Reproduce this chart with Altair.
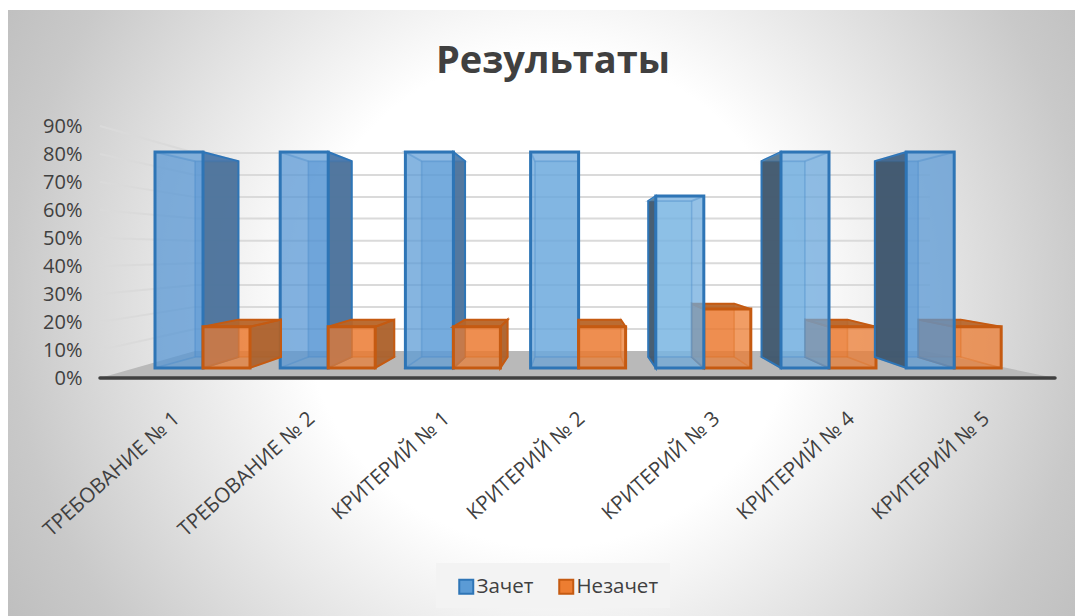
import altair as alt
import pandas as pd

categories = ["ТРЕБОВАНИЕ № 1", "ТРЕБОВАНИЕ № 2", "КРИТЕРИЙ № 1", "КРИТЕРИЙ № 2",
              "КРИТЕРИЙ № 3", "КРИТЕРИЙ № 4", "КРИТЕРИЙ № 5"]
zachet = [80.7, 80.7, 80.7, 80.7, 65.0, 80.7, 80.7]
nezachet = [18.3, 18.3, 18.3, 18.3, 24.6, 18.3, 18.3]
series_names = ["Зачет", "Незачет"]
y_ticks = [0, 10, 20, 30, 40, 50, 60, 70, 80, 90]
# levels at which the axis ticks meet the back wall of the 3-D box
back_wall = [9.6, 17.5, 25.4, 33.2, 41.0, 49.0, 57.0, 64.6, 72.5, 80.4]

FLOOR = 3.6                 # bars stand on the floor slightly above 0
XMIN, XMAX = -0.8227, 6.8051
WALL_L, WALL_R = -0.064, 5.806
VX, VY, DEPTH_X, DEPTH_Y = 2.98, 45.7, 0.905, 0.907
BLUE_W, ORANGE_W = 0.3834, 0.3754
LABEL_X0, LABEL_STEP = -0.208, 1.078

blue_back = ["#4182ce", "#4182ce", "#5a9ad8", "#8fc8ee", "#bef2ff", "#a0d8f5", "#4f90d4"]
ORANGE_BACK = "#e8702a"
BLUE_EDGE, ORANGE_EDGE = "#2e75b6", "#c55a11"

xs = alt.Scale(domain=[XMIN, XMAX], nice=False, zero=False)
ys = alt.Scale(domain=[0, 90], nice=False, zero=False)
y_axis = alt.Axis(values=y_ticks, labelExpr="datum.value + '%'", labelFontSize=20,
                  labelFont="Open Sans", labelColor="#404040", domain=False, ticks=False,
                  grid=False, labelPadding=18, zindex=1, title=None)
X = alt.X("x:Q", scale=xs, axis=None, stack=None)
X2 = alt.X2("x2:Q")
Y = alt.Y("y:Q", scale=ys, axis=y_axis, stack=None)
Y2 = alt.Y2("y2:Q")


def bx(u):
    return VX + DEPTH_X * (u - VX)


def by(v):
    return VY + DEPTH_Y * (v - VY)


def side_face(f_x, v, **style):
    df = pd.DataFrame([dict(x=f_x, y=FLOOR, y2=v), dict(x=bx(f_x), y=by(FLOOR), y2=by(v))])
    return alt.Chart(df).mark_area(orient="vertical", **style).encode(x=X, y=Y, y2=Y2)


def flat_face(l, r, lev, **style):
    df = pd.DataFrame([dict(y=lev, x=l, x2=r), dict(y=by(lev), x=bx(l), x2=bx(r))])
    return alt.Chart(df).mark_area(orient="horizontal", **style).encode(y=Y, x=X, x2=X2)


layers = {"rear": [], "front": []}
for i in range(len(categories)):
    right_group = i >= 4
    for s, vals in enumerate([zachet, nezachet]):
        v = vals[i]
        l, r = (i - BLUE_W, i) if s == 0 else (i, i + ORANGE_W)
        grp = "rear" if (s == 0) != right_group else "front"
        edge = BLUE_EDGE if s == 0 else ORANGE_EDGE
        base = blue_back[i] if s == 0 else ORANGE_BACK
        out = layers[grp]
        back_df = pd.DataFrame([dict(x=bx(l), x2=bx(r), y=by(FLOOR), y2=by(v))])
        out.append(alt.Chart(back_df).mark_rect(
            fill=base, fillOpacity=0.6, stroke=edge, strokeWidth=1.5, strokeOpacity=0.25).encode(
            x=X, x2=X2, y=Y, y2=Y2))
        # bottom, left and right, top faces; the one lying outside the front is shaded
        out.append(flat_face(l, r, FLOOR, fill=base, fillOpacity=0.25, stroke=edge,
                             strokeWidth=1.5, strokeOpacity=0.25))
        for face, f_x in (("L", l), ("R", r)):
            outer = (bx(f_x) < f_x) if face == "L" else (bx(f_x) > f_x)
            if s == 0:
                dark = "#40566c" if right_group else "#4f749b"
            else:
                dark = "#a8602c"
            out.append(side_face(
                f_x, v, fill=dark if outer else base,
                fillOpacity=(0.95 if s == 0 else (0.6 if right_group else 0.9)) if outer else 0.35,
                stroke=edge, strokeWidth=2 if outer else 1.5, strokeOpacity=1.0 if outer else 0.25))
        above = by(v) > v
        out.append(flat_face(l, r, v, fill=("#4f749b" if s == 0 else "#b5652a") if above else base,
                             fillOpacity=0.9 if above else 0.25, stroke=edge, strokeWidth=2,
                             strokeOpacity=1.0 if above else 0.25))

fronts = []
for i in range(len(categories)):
    right_group = i >= 4
    for s, vals in enumerate([zachet, nezachet]):
        l, r = (i - BLUE_W, i) if s == 0 else (i, i + ORANGE_W)
        fronts.append(dict(series=series_names[s], x=l, x2=r, y=FLOOR, y2=vals[i],
                           grp="rear" if (s == 0) != right_group else "front"))
front_df = pd.DataFrame(fronts)


def front_layer(group):
    return alt.Chart(front_df[front_df.grp == group]).mark_rect(
        fillOpacity=0.6, strokeWidth=3).encode(
        x=X, x2=X2, y=Y, y2=Y2,
        fill=alt.Fill("series:N", scale=alt.Scale(domain=series_names, range=["#5b9bd5", "#ed7d31"]),
                      legend=alt.Legend(
                          title=None, orient="none", legendX=356, legendY=450, direction="horizontal",
                          symbolType="square", symbolSize=196, symbolStrokeWidth=2,
                          symbolOpacity=1, labelFont="Open Sans", labelFontSize=20.5,
                          labelColor="#404040", padding=0,
                          columnPadding=21, labelOffset=0)),
        stroke=alt.Stroke("series:N", scale=alt.Scale(domain=series_names, range=[BLUE_EDGE, ORANGE_EDGE]),
                          legend=None))


gradient = alt.RadialGradient(
    gradient="radial", x1=0.5, y1=0.5, x2=0.5, y2=0.5, r1=0, r2=0.6,
    stops=[alt.GradientStop(color="#ffffff", offset=0),
           alt.GradientStop(color="#ffffff", offset=0.38),
           alt.GradientStop(color="#c9c9c9", offset=0.83),
           alt.GradientStop(color="#bcbcbc", offset=1)])
one = alt.Data(values=[{"a": 1}])
bg = alt.Chart(one).mark_rect(fill=gradient).encode(
    x=alt.value(-92), x2=alt.value(992), y=alt.value(-368), y2=alt.value(716))
top_strip = alt.Chart(one).mark_rect(fill="#ffffff").encode(
    x=alt.value(-92), x2=alt.value(992), y=alt.value(-118), y2=alt.value(-116))
legend_box = alt.Chart(one).mark_rect(fill="#f3f3f3").encode(
    x=alt.value(336), x2=alt.value(570), y=alt.value(437), y2=alt.value(482))

grid_rows = []
for t, b in zip(y_ticks[1:], back_wall[1:] + [back_wall[-1]]):
    grid_rows += [dict(t=t, x=XMIN, y=t), dict(t=t, x=WALL_L, y=b), dict(t=t, x=WALL_R, y=b)]
grid = alt.Chart(pd.DataFrame(grid_rows)).mark_line(color="#dadada", strokeWidth=2).encode(
    x=X, y=Y, detail="t:N", order="x:Q")

floor_df = pd.DataFrame([dict(y=0, x=XMIN, x2=XMAX), dict(y=back_wall[0], x=WALL_L, x2=5.77)])
floor = alt.Chart(floor_df).mark_area(orient="horizontal", color="#b9b9b9").encode(
    y=Y, x=X, x2=X2)
axis_line = alt.Chart(pd.DataFrame(dict(y=[0]))).mark_rule(
    color="#404040", strokeWidth=3.5, strokeCap="round").encode(y=Y)

label_df = pd.DataFrame(dict(x=[LABEL_X0 + LABEL_STEP * i for i in range(len(categories))],
                             label=categories))
labels = alt.Chart(label_df).mark_text(
    angle=318, align="right", baseline="middle", font="Open Sans", fontSize=20.5,
    color="#404040").encode(x=X, y=alt.value(290), text="label:N")

title = alt.Chart(pd.DataFrame(dict(t=["Результаты"]))).mark_text(
    font="Open Sans", fontSize=38, fontWeight="bold", color="#404040",
    align="center", baseline="middle").encode(
    x=alt.value(453), y=alt.value(-64), text="t:N")

chart = alt.layer(bg, top_strip, legend_box, grid, floor, axis_line,
                  *layers["rear"], front_layer("rear"),
                  *layers["front"], front_layer("front"), labels, title).properties(
    width=955, height=252,
    padding={"left": 92, "top": 118, "right": 20, "bottom": 238},
    autosize=alt.AutoSizeParams(type="none"),
).configure_view(stroke=None)

chart.save("out.html", embed_options={"renderer": "svg", "actions": False})
